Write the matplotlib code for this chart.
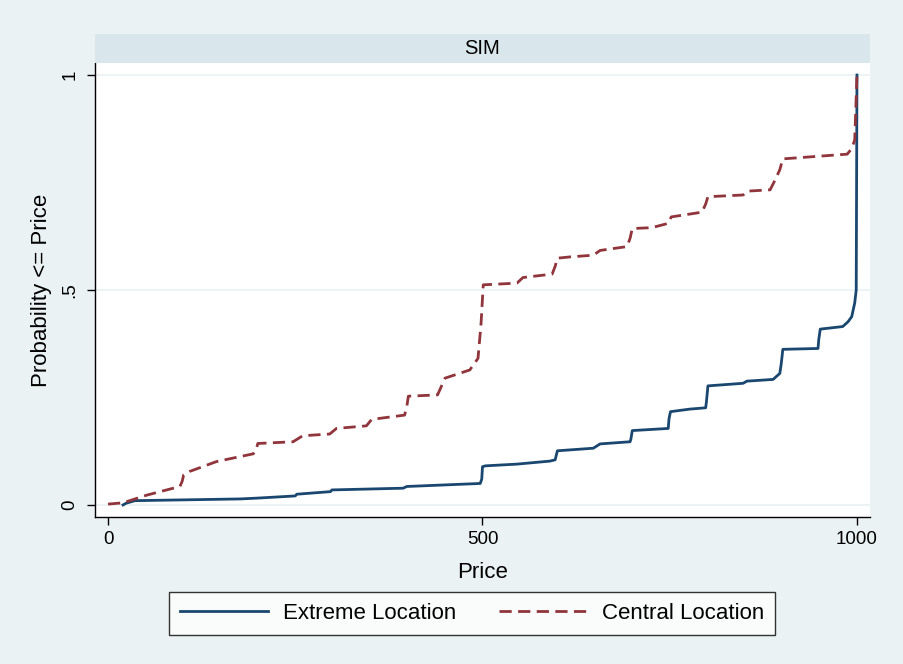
import matplotlib.pyplot as plt

plt.rcParams['font.family'] = ['Liberation Sans', 'DejaVu Sans']

# cumulative probability of price, read as knots (price, probability)
extreme_price = [20, 24, 36, 176, 200, 250, 252, 297, 299, 394, 399, 497, 499, 500,
                 504, 546, 590, 597, 600, 648, 657, 697, 698, 700, 748, 749, 751,
                 777, 798, 799, 801, 848, 853, 888, 897, 899, 901, 948, 949, 951,
                 981, 988, 993, 997, 999, 1000]
extreme_prob = [0.0, 0.004, 0.010, 0.014, 0.016, 0.021, 0.025, 0.031, 0.035, 0.039,
                0.043, 0.050, 0.060, 0.089, 0.091, 0.095, 0.102, 0.105, 0.126, 0.132,
                0.142, 0.147, 0.152, 0.173, 0.178, 0.200, 0.217, 0.223, 0.226, 0.240,
                0.277, 0.283, 0.288, 0.292, 0.306, 0.330, 0.362, 0.364, 0.385, 0.409,
                0.415, 0.426, 0.438, 0.470, 0.500, 1.0]

central_price = [0, 20, 52, 96, 99, 101, 109, 145, 194, 198, 200, 247, 260, 296, 305,
                 345, 352, 396, 399, 401, 440, 450, 483, 494, 498, 501, 546, 554, 593,
                 597, 600, 617, 648, 657, 693, 697, 700, 726, 748, 752, 793, 798, 801,
                 848, 854, 884, 891, 897, 901, 987, 993, 997, 1000]
central_prob = [0.002, 0.005, 0.023, 0.043, 0.055, 0.070, 0.078, 0.101, 0.119, 0.130,
                0.143, 0.147, 0.161, 0.165, 0.178, 0.184, 0.199, 0.209, 0.230, 0.253,
                0.256, 0.295, 0.314, 0.341, 0.420, 0.512, 0.516, 0.529, 0.537, 0.555,
                0.574, 0.577, 0.581, 0.592, 0.601, 0.620, 0.643, 0.645, 0.655, 0.670,
                0.681, 0.700, 0.717, 0.721, 0.730, 0.733, 0.757, 0.780, 0.805, 0.816,
                0.829, 0.849, 1.0]

bg = '#eaf2f3'
strip = '#d9e6eb'
navy = '#1a476f'
maroon = '#90353b'

fig = plt.figure(figsize=(9.04, 6.64), dpi=100, facecolor=bg)
W, H = 904, 664
ax = fig.add_axes([95 / W, 1 - 517 / H, 775 / W, 454 / H])
ax.set_facecolor('white')

# panel header
sax = fig.add_axes([95 / W, 1 - 63 / H, 775 / W, 29 / H])
sax.set_facecolor(strip)
sax.set_xticks([])
sax.set_yticks([])
for s in sax.spines.values():
    s.set_visible(False)
sax.text(0.5, 0.5, 'SIM', ha='center', va='center', fontsize=14.5, transform=sax.transAxes)

for yv in [0, 0.5, 1]:
    ax.axhline(yv, color=bg, lw=1.2, zorder=0)

ax.plot(extreme_price, extreme_prob, color=navy, lw=2.0, label='Extreme Location',
        solid_joinstyle='round')
ax.plot(central_price, central_prob, color=maroon, lw=2.0, dashes=(4.4, 2.3),
        label='Central Location')

ax.set_xlim(-17.4, 1017.4)
ax.set_ylim(-0.028, 1.028)
ax.set_xticks([0, 500, 1000])
ax.set_yticks([0, 0.5, 1])
ax.set_yticklabels(['0', '.5', '1'], rotation=90, va='center')
ax.tick_params(axis='both', labelsize=13.5, length=6, width=1, direction='out')
ax.tick_params(axis='y', pad=6)
ax.tick_params(axis='x', pad=4)
for s in ['top', 'right']:
    ax.spines[s].set_visible(False)
for s in ['left', 'bottom']:
    ax.spines[s].set_color('black')
    ax.spines[s].set_linewidth(1)

ax.set_xlabel('Price', fontsize=16, labelpad=10)
ax.set_ylabel('Probability <= Price', fontsize=16, labelpad=7)

leg = fig.legend(loc='center', bbox_to_anchor=(472 / W, 1 - 613.5 / H), ncol=2,
                 fontsize=16, frameon=True, fancybox=False, handlelength=3.95,
                 columnspacing=1.9, borderpad=0.5, borderaxespad=0,
                 handletextpad=0.7)
leg.get_frame().set_edgecolor('black')
leg.get_frame().set_linewidth(1)

fig.savefig('out.png', dpi=100, facecolor=bg)
